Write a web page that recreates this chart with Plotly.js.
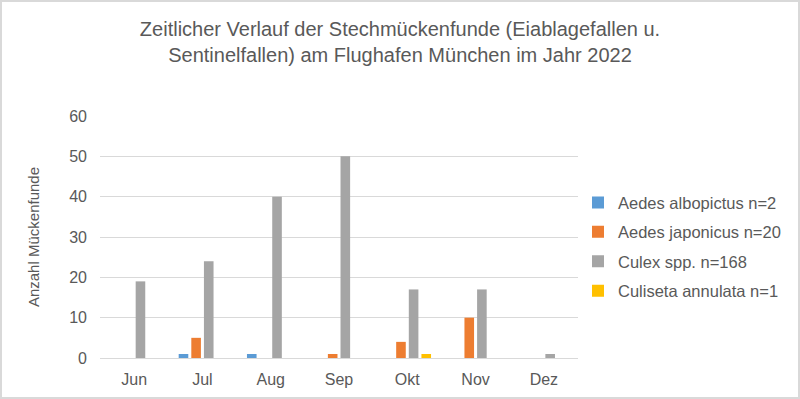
<!DOCTYPE html>
<html>
<head>
<meta charset="utf-8">
<script src="https://cdn.plot.ly/plotly-3.0.1.min.js"></script>
<style>
html,body{margin:0;padding:0;background:#fff;}
#wrap{position:relative;width:800px;height:399px;}
#chart{width:800px;height:399px;}
#frame{position:absolute;left:0;top:0;width:800px;height:399px;box-sizing:border-box;border:2px solid #d9d9d9;pointer-events:none;}
</style>
</head>
<body>
<div id="wrap"><div id="chart"></div><div id="frame"></div></div>
<script>
const months = ["Jun","Jul","Aug","Sep","Okt","Nov","Dez"];
const seriesNames = ["Aedes albopictus n=2","Aedes japonicus n=20","Culex spp. n=168","Culiseta annulata n=1"];
const albopictus = [0,1,1,0,0,0,0];
const japonicus = [0,5,0,1,4,10,0];
const culex = [19,24,40,50,17,17,1];
const culiseta = [0,0,0,0,1,0,0];
const colors = ["#5B9BD5","#ED7D31","#A5A5A5","#FFC000"];
const values = [albopictus, japonicus, culex, culiseta];

const traces = values.map((v,i)=>({
  type:'bar', x:months, y:v, name:seriesNames[i],
  marker:{color:colors[i], line:{width:0}},
  legendgroup:'g'+i, hoverinfo:'x+y+name'
}));

const font = {family:'"Liberation Sans", Arial, sans-serif', color:'#595959'};
const layout = {
  width:800, height:399,
  margin:{l:100, r:222, t:116, b:41, pad:0},
  paper_bgcolor:'#fff', plot_bgcolor:'#fff',
  font:Object.assign({size:16}, font),
  title:{text:'Zeitlicher Verlauf der Stechmückenfunde (Eiablagefallen u.<br>Sentinelfallen) am Flughafen München im Jahr 2022',
         font:Object.assign({size:20}, font), x:0.5, xanchor:'center', y:0.91, yanchor:'top'},
  barmode:'group', bargap:0.26, bargroupgap:0.24,
  xaxis:{type:'category', showline:true, linecolor:'#d9d9d9', linewidth:1, ticks:'', showgrid:false,
         tickfont:Object.assign({size:16}, font), zeroline:false, ticklabelstandoff:7},
  yaxis:{range:[0,60], dtick:10, showgrid:true, gridcolor:'#d9d9d9', gridwidth:1, zeroline:false,
         showline:false, ticks:'', tickfont:Object.assign({size:16}, font), ticklabelstandoff:12},
  annotations:[{text:'Anzahl Mückenfunde', xref:'paper', yref:'paper', x:-0.140, y:0.5,
                xanchor:'center', yanchor:'middle', textangle:-90, showarrow:false,
                font:Object.assign({size:15}, font)}],
  legend:{x:1, xanchor:'left', xref:'paper', y:0.46, yanchor:'middle', traceorder:'grouped', tracegroupgap:5,
          font:Object.assign({size:16.5}, font), itemwidth:30, bgcolor:'rgba(0,0,0,0)'},
  showlegend:true
};
Plotly.newPlot('chart', traces, layout, {displayModeBar:false, staticPlot:true});
</script>
</body>
</html>
